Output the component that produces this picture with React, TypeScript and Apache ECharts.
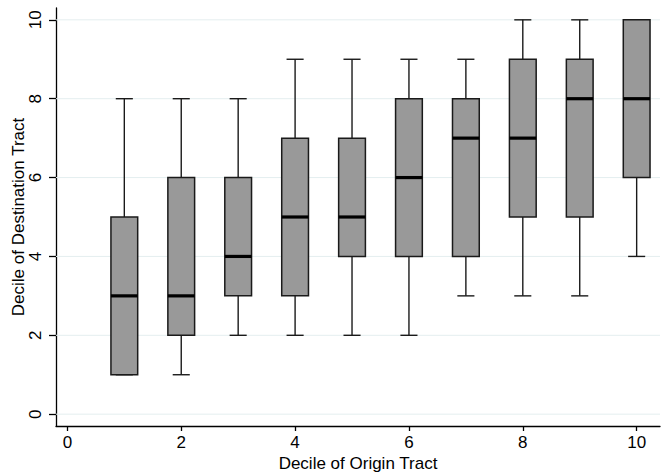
import React, { useEffect, useRef } from "react";
import * as echarts from "echarts";

const categories = [1, 2, 3, 4, 5, 6, 7, 8, 9, 10];
const mins = [1, 1, 2, 2, 2, 2, 3, 3, 3, 4];
const q1s = [1, 2, 3, 3, 4, 4, 4, 5, 5, 6];
const medians = [3, 3, 4, 5, 5, 6, 7, 7, 8, 8];
const q3s = [5, 6, 6, 7, 7, 8, 8, 9, 9, 10];
const maxs = [8, 8, 8, 9, 9, 9, 9, 10, 10, 10];
const xTicks = [0, 2, 4, 6, 8, 10];
const yTicks = [0, 2, 4, 6, 8, 10];

const BOX_W = 0.47;
const CAP_W = 0.3;
const FONT = "'Liberation Sans', Arial, Helvetica, sans-serif";

export default function App() {
  const ref = useRef<HTMLDivElement>(null);
  useEffect(() => {
    if (!ref.current) return;
    const chart = echarts.init(ref.current, undefined, { renderer: "svg" });
    const data = categories.map((c, i) => [c, mins[i], q1s[i], medians[i], q3s[i], maxs[i]]);
    chart.setOption({
      animation: false,
      backgroundColor: "#ffffff",
      grid: { left: 56, right: 1, top: 8, bottom: 47, containLabel: false, outerBoundsMode: "none" },
      xAxis: {
        type: "value",
        min: -0.2,
        max: 10.41,
        name: "Decile of Origin Tract",
        nameLocation: "middle",
        nameGap: 29,
        nameMoveOverlap: false,
        nameTextStyle: { fontFamily: FONT, fontSize: 17, color: "#000" },
        axisLine: { show: true, onZero: false, lineStyle: { color: "#000", width: 1.3 } },
        axisTick: { show: true, length: 5, customValues: xTicks, lineStyle: { color: "#000", width: 1.3 } },
        axisLabel: { customValues: xTicks, fontFamily: FONT, fontSize: 17, color: "#000", margin: 8 },
        splitLine: { show: false },
      },
      yAxis: {
        type: "value",
        min: -0.3,
        max: 10.3,
        name: "Decile of Destination Tract",
        nameLocation: "middle",
        nameGap: 29,
        nameRotate: 90,
        nameMoveOverlap: false,
        nameTextStyle: { fontFamily: FONT, fontSize: 17, color: "#000" },
        axisLine: { show: true, onZero: false, lineStyle: { color: "#000", width: 1.3 } },
        axisTick: { show: true, length: 7, customValues: yTicks, lineStyle: { color: "#000", width: 1.3 } },
        axisLabel: { customValues: yTicks, rotate: 90, fontFamily: FONT, fontSize: 17, color: "#000", margin: 12 },
        splitLine: { show: false },
      },
      series: [
        {
          type: "custom",
          z: 1,
          silent: true,
          data: yTicks.map((v) => [0, v]),
          renderItem: (params: any, api: any) => {
            const cs = params.coordSys;
            const y = api.coord([0, api.value(1)])[1];
            return {
              type: "line",
              shape: { x1: cs.x, y1: y, x2: cs.x + cs.width, y2: y },
              style: { stroke: "#e4eeef", lineWidth: 1 },
            };
          },
        },
        {
          type: "custom",
          z: 2,
          data,
          renderItem: (params: any, api: any) => {
            const x = api.value(0);
            const lo = api.coord([x, api.value(1)]);
            const q1 = api.coord([x, api.value(2)]);
            const md = api.coord([x, api.value(3)]);
            const q3 = api.coord([x, api.value(4)]);
            const hi = api.coord([x, api.value(5)]);
            const bw = api.size([BOX_W, 0])[0];
            const cw = api.size([CAP_W, 0])[0];
            const cx = lo[0];
            const lineStyle = { stroke: "#1a1a1a", lineWidth: 1.4 };
            return {
              type: "group",
              children: [
                { type: "line", shape: { x1: cx, y1: q3[1], x2: cx, y2: hi[1] }, style: lineStyle },
                { type: "line", shape: { x1: cx, y1: q1[1], x2: cx, y2: lo[1] }, style: lineStyle },
                { type: "line", shape: { x1: cx - cw / 2, y1: hi[1], x2: cx + cw / 2, y2: hi[1] }, style: lineStyle },
                { type: "line", shape: { x1: cx - cw / 2, y1: lo[1], x2: cx + cw / 2, y2: lo[1] }, style: lineStyle },
                {
                  type: "rect",
                  shape: { x: cx - bw / 2, y: q3[1], width: bw, height: q1[1] - q3[1] },
                  style: { fill: "#999999", stroke: "#1a1a1a", lineWidth: 1.5 },
                },
                {
                  type: "line",
                  shape: { x1: cx - bw / 2, y1: md[1], x2: cx + bw / 2, y2: md[1] },
                  style: { stroke: "#000", lineWidth: 3.2 },
                },
              ],
            };
          },
        },
      ],
    });
    return () => chart.dispose();
  }, []);
  return <div ref={ref} style={{ width: 661, height: 473, position: "absolute", left: 0, top: 0 }} />;
}
